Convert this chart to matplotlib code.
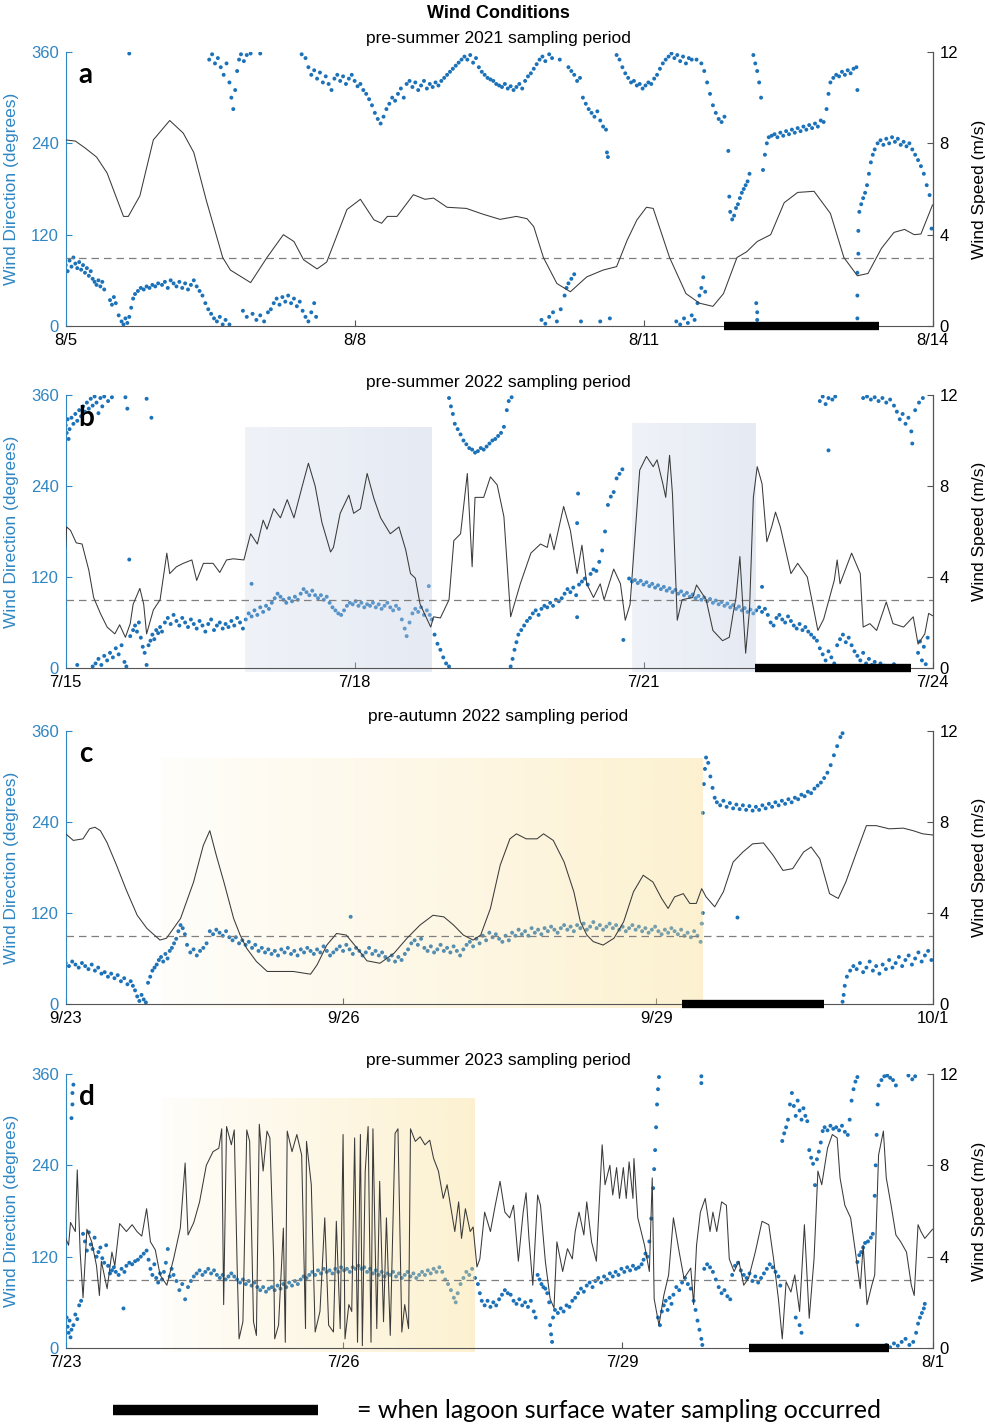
import numpy as np
import matplotlib
matplotlib.use('Agg')
import matplotlib.pyplot as plt
from matplotlib.lines import Line2D

plt.rcParams['font.family'] = ['Liberation Sans', 'DejaVu Sans']

# ---------------- data (x in days from panel start) ----------------
a_spd = [(0.00, 8.15), (0.10, 8.1), (0.20, 7.8), (0.32, 7.4), (0.43, 6.7), (0.60, 4.8), (0.65, 4.8),
         (0.77, 5.7), (0.91, 8.15), (1.08, 9.0), (1.22, 8.45), (1.33, 7.6), (1.46, 5.5), (1.63, 3.0),
         (1.71, 2.45), (1.92, 1.9), (2.09, 3.0), (2.26, 4.0), (2.37, 3.7), (2.47, 2.9), (2.61, 2.5),
         (2.71, 2.8), (2.92, 5.1), (3.06, 5.55), (3.20, 4.65), (3.28, 4.5), (3.34, 4.8), (3.44, 4.8),
         (3.61, 5.75), (3.73, 5.55), (3.82, 5.6), (3.96, 5.2), (4.16, 5.15), (4.33, 4.9), (4.51, 4.67),
         (4.68, 4.8), (4.79, 4.7), (4.86, 4.35), (4.96, 3.0), (5.10, 1.86), (5.24, 1.5), (5.41, 2.15),
         (5.58, 2.45), (5.72, 2.6), (5.83, 3.76), (5.93, 4.64), (6.03, 5.2), (6.10, 5.15), (6.27, 3.0),
         (6.44, 1.42), (6.58, 1.0), (6.72, 0.86), (6.83, 1.42), (6.97, 3.0), (7.07, 3.25), (7.18, 3.7),
         (7.32, 4.0), (7.46, 5.4), (7.60, 5.85), (7.77, 5.9), (7.94, 4.93), (8.08, 3.0), (8.22, 2.2),
         (8.33, 2.3), (8.47, 3.4), (8.60, 4.1), (8.71, 4.23), (8.81, 4.0), (8.88, 4.03), (9.00, 5.3)]

a_dir = [(0.00, 80), (0.02, 72), (0.04, 86), (0.06, 78), (0.08, 90), (0.10, 82), (0.12, 76), (0.14, 84),
         (0.16, 74), (0.18, 80), (0.20, 70), (0.22, 76), (0.24, 66), (0.26, 72), (0.28, 62), (0.30, 58),
         (0.32, 54), (0.34, 60), (0.36, 52), (0.38, 58), (0.40, 48), (0.46, 34), (0.48, 28), (0.50, 38),
         (0.52, 30), (0.55, 14), (0.58, 6), (0.60, 2), (0.62, 10), (0.64, 4), (0.66, 12), (0.68, 24),
         (0.70, 36), (0.72, 42), (0.75, 46), (0.78, 50), (0.81, 48), (0.84, 52), (0.87, 50), (0.90, 54),
         (0.93, 52), (0.96, 56), (1.00, 54), (1.03, 58), (1.06, 50), (1.09, 60), (1.12, 56), (1.15, 52),
         (1.18, 58), (1.21, 50), (1.24, 56), (1.27, 48), (1.30, 54), (1.33, 60), (1.36, 52), (1.39, 46),
         (1.42, 40), (1.45, 30), (1.48, 22), (1.51, 16), (1.54, 10), (1.57, 6), (1.60, 12), (1.63, 2),
         (1.66, 8), (1.70, 2), (0.66, 358),
         (1.49, 350), (1.52, 357), (1.55, 345), (1.58, 352), (1.61, 340), (1.64, 330), (1.67, 345),
         (1.70, 320), (1.72, 300), (1.74, 285), (1.76, 310), (1.78, 335), (1.80, 350), (1.82, 357),
         (1.85, 348), (1.88, 356), (1.92, 358), (2.02, 358),
         (1.84, 20), (1.88, 12), (1.94, 16), (1.98, 8), (2.02, 14), (2.06, 6), (2.10, 18), (2.13, 22),
         (2.16, 30), (2.19, 36), (2.22, 28), (2.25, 38), (2.28, 32), (2.31, 40), (2.34, 30), (2.37, 36),
         (2.40, 26), (2.43, 32), (2.46, 20), (2.49, 12), (2.52, 6), (2.55, 18), (2.58, 30), (2.60, 12),
         (2.45, 357), (2.49, 352), (2.52, 340), (2.55, 330), (2.58, 336), (2.61, 325), (2.64, 333),
         (2.67, 320), (2.70, 328), (2.73, 318), (2.76, 310), (2.79, 325), (2.82, 330), (2.85, 322),
         (2.88, 328), (2.91, 318), (2.94, 325), (2.97, 330), (3.00, 322), (3.03, 315), (3.06, 318),
         (3.09, 310), (3.12, 305), (3.15, 298), (3.18, 290), (3.21, 280), (3.24, 272), (3.27, 266),
         (3.30, 275), (3.33, 285), (3.36, 292), (3.39, 300), (3.42, 296), (3.45, 305), (3.48, 312),
         (3.51, 300), (3.54, 318), (3.57, 322), (3.60, 314), (3.63, 320), (3.66, 310), (3.69, 316),
         (3.72, 322), (3.75, 312), (3.78, 318), (3.81, 314), (3.84, 320), (3.87, 316), (3.90, 322),
         (3.93, 326), (3.96, 330), (3.99, 334), (4.02, 338), (4.05, 342), (4.08, 346), (4.11, 350),
         (4.14, 354), (4.17, 350), (4.20, 356), (4.23, 346), (4.26, 352), (4.29, 340), (4.32, 334),
         (4.35, 330), (4.38, 326), (4.41, 324), (4.44, 322), (4.47, 318), (4.50, 316), (4.53, 314),
         (4.56, 318), (4.59, 312), (4.62, 315), (4.65, 310), (4.68, 314), (4.71, 318), (4.74, 312),
         (4.77, 322), (4.80, 328), (4.83, 332), (4.86, 338), (4.89, 344), (4.92, 350), (4.95, 354),
         (4.98, 348), (5.02, 357), (5.05, 352), (5.13, 350), (5.22, 340), (5.25, 335), (5.28, 330),
         (5.31, 322), (5.34, 326), (5.37, 300), (5.40, 292), (5.43, 285), (5.46, 280), (5.49, 275),
         (5.52, 282), (5.55, 270), (5.58, 262), (5.61, 258), (5.62, 228), (5.63, 222),
         (4.94, 8), (4.98, 3), (5.02, 12), (5.06, 18), (5.10, 6), (5.14, 22), (5.18, 40), (5.20, 50),
         (5.22, 56), (5.25, 62), (5.28, 68), (5.35, 6), (5.55, 6), (5.65, 10),
         (5.72, 356), (5.75, 350), (5.78, 340), (5.81, 332), (5.84, 326), (5.87, 320), (5.90, 322),
         (5.93, 316), (5.96, 318), (5.99, 312), (6.02, 316), (6.05, 320), (6.08, 318), (6.11, 325),
         (6.14, 330), (6.17, 338), (6.20, 345), (6.23, 350), (6.26, 354), (6.29, 358), (6.32, 352),
         (6.35, 356), (6.38, 348), (6.41, 354), (6.44, 345), (6.47, 352), (6.50, 350), (6.55, 350),
         (6.60, 345), (6.63, 335), (6.66, 320), (6.69, 305), (6.72, 290), (6.75, 280), (6.78, 272),
         (6.81, 268), (6.84, 275),
         (6.34, 6), (6.38, 2), (6.42, 10), (6.46, 4), (6.50, 14), (6.53, 8), (6.56, 30), (6.58, 40),
         (6.60, 50), (6.62, 64), (6.64, 45),
         (6.88, 230), (6.89, 170), (6.90, 150), (6.92, 140), (6.94, 145), (6.96, 155), (6.98, 160),
         (7.00, 168), (7.02, 175), (7.04, 180), (7.06, 185), (7.08, 190), (7.10, 200),
         (7.14, 356), (7.16, 345), (7.18, 335), (7.20, 320), (7.22, 300), (7.17, 30), (7.18, 18), (7.18, 8),
         (7.24, 205), (7.26, 225), (7.28, 240), (7.30, 248), (7.33, 250), (7.36, 252), (7.39, 248),
         (7.42, 254), (7.45, 250), (7.48, 256), (7.51, 252), (7.54, 258), (7.57, 254), (7.60, 260),
         (7.63, 256), (7.66, 262), (7.69, 258), (7.72, 264), (7.75, 260), (7.78, 266), (7.81, 262),
         (7.84, 270), (7.87, 268), (7.90, 285), (7.92, 305), (7.94, 320), (7.97, 326), (8.00, 330),
         (8.03, 328), (8.06, 334), (8.09, 330), (8.12, 336), (8.15, 332), (8.18, 338), (8.21, 340),
         (8.22, 310), (8.22, 10), (8.22, 40), (8.22, 70), (8.23, 95), (8.23, 125), (8.24, 150),
         (8.26, 160), (8.28, 168), (8.30, 175), (8.32, 185), (8.34, 200), (8.36, 215), (8.38, 225),
         (8.40, 232), (8.43, 240), (8.46, 244), (8.49, 238), (8.52, 246), (8.55, 240), (8.58, 248),
         (8.61, 242), (8.64, 246), (8.67, 238), (8.70, 242), (8.73, 236), (8.76, 240), (8.79, 232),
         (8.82, 225), (8.85, 218), (8.88, 210), (8.91, 200), (8.94, 185), (8.97, 172), (8.99, 128)]

b_spd = [(0.00, 5.3), (0.01, 6.2), (0.05, 6.05), (0.11, 5.5), (0.17, 5.45), (0.24, 4.3), (0.29, 3.1),
         (0.36, 2.4), (0.43, 1.8), (0.51, 1.5), (0.56, 1.9), (0.62, 1.35), (0.67, 1.95), (0.70, 2.8),
         (0.77, 3.5), (0.81, 2.8), (0.84, 1.5), (0.91, 2.55), (0.98, 3.0), (1.05, 5.05), (1.08, 4.15),
         (1.15, 4.45), (1.22, 4.6), (1.31, 4.75), (1.36, 3.85), (1.43, 4.6), (1.53, 4.6), (1.60, 4.2),
         (1.67, 4.75), (1.74, 4.8), (1.85, 4.75), (1.92, 5.9), (1.99, 5.45), (2.05, 6.5), (2.09, 6.1),
         (2.16, 7.0), (2.23, 6.6), (2.30, 7.4), (2.37, 6.6), (2.45, 7.9), (2.52, 9.0), (2.59, 8.0),
         (2.66, 6.4), (2.75, 5.1), (2.78, 5.3), (2.85, 6.8), (2.94, 7.6), (2.99, 6.8), (3.06, 7.0),
         (3.13, 8.55), (3.20, 7.45), (3.27, 6.6), (3.37, 5.9), (3.46, 6.2), (3.53, 5.2), (3.58, 4.15),
         (3.63, 3.95), (3.68, 2.8), (3.79, 1.8), (3.82, 2.25), (3.89, 2.2), (3.98, 3.0), (4.03, 5.6),
         (4.10, 5.9), (4.17, 8.55), (4.22, 4.45), (4.25, 7.5), (4.34, 7.5), (4.41, 8.4), (4.48, 8.05),
         (4.55, 6.65), (4.62, 2.25), (4.72, 3.7), (4.83, 5.05), (4.93, 5.45), (5.00, 5.3), (5.03, 5.9),
         (5.07, 5.2), (5.17, 7.1), (5.24, 6.05), (5.31, 4.15), (5.36, 5.4), (5.41, 3.7), (5.48, 3.1),
         (5.55, 3.7), (5.59, 3.0), (5.69, 4.35), (5.76, 3.7), (5.81, 2.1), (5.86, 2.8), (5.91, 5.75),
         (5.96, 8.7), (6.03, 9.3), (6.10, 8.85), (6.14, 9.15), (6.20, 8.1), (6.23, 7.5), (6.27, 9.35),
         (6.30, 7.65), (6.35, 2.1), (6.40, 3.0), (6.51, 3.1), (6.55, 3.65), (6.65, 3.0), (6.72, 1.65),
         (6.82, 1.2), (6.89, 1.35), (6.93, 2.4), (6.96, 3.1), (7.00, 4.9), (7.03, 2.8), (7.06, 0.65),
         (7.10, 2.55), (7.14, 7.5), (7.18, 8.85), (7.23, 8.1), (7.28, 5.55), (7.33, 6.2), (7.37, 6.85),
         (7.42, 6.2), (7.53, 4.15), (7.60, 4.6), (7.70, 4.0), (7.81, 1.65), (7.87, 2.15), (7.98, 3.85),
         (8.01, 4.75), (8.04, 3.7), (8.16, 5.05), (8.25, 4.15), (8.28, 1.8), (8.35, 1.95), (8.42, 1.65),
         (8.52, 2.9), (8.59, 1.95), (8.70, 1.8), (8.80, 2.25), (8.85, 1.05), (8.92, 1.5), (8.96, 2.4),
         (9.00, 2.3)]

b_dir = [(0.00, 320), (0.01, 310), (0.02, 328), (0.03, 302), (0.04, 315), (0.06, 330), (0.08, 322),
         (0.10, 335), (0.12, 326), (0.14, 340), (0.16, 332), (0.18, 345), (0.20, 338), (0.22, 350),
         (0.24, 342), (0.26, 355), (0.28, 346), (0.30, 358), (0.32, 350), (0.34, 336), (0.36, 356),
         (0.38, 345), (0.40, 358), (0.44, 352), (0.48, 357), (0.62, 357), (0.64, 342), (0.84, 355),
         (0.89, 330),
         (0.12, 4), (0.28, 2), (0.31, 6), (0.34, 12), (0.37, 4), (0.40, 16), (0.43, 10), (0.46, 20),
         (0.49, 14), (0.52, 26), (0.55, 18), (0.58, 30), (0.61, 8), (0.63, 2), (0.66, 143), (0.67, 42),
         (0.70, 50), (0.72, 56), (0.74, 48), (0.76, 60), (0.78, 40), (0.80, 28), (0.82, 20), (0.84, 4),
         (0.86, 30), (0.88, 36), (0.90, 44), (0.92, 38), (0.94, 50), (0.96, 46), (0.98, 54), (1.00, 48),
         (1.03, 60), (1.06, 66), (1.09, 58), (1.12, 70), (1.15, 62), (1.18, 56), (1.21, 66), (1.24, 60),
         (1.27, 54), (1.30, 64), (1.33, 58), (1.36, 52), (1.39, 62), (1.42, 56), (1.45, 48), (1.48, 58),
         (1.51, 64), (1.54, 50), (1.57, 56), (1.60, 60), (1.63, 52), (1.66, 58), (1.69, 54), (1.72, 62),
         (1.75, 56), (1.78, 66), (1.81, 60), (1.84, 52),
         (1.87, 64), (1.90, 72), (1.93, 111), (1.93, 68), (1.96, 76), (1.99, 70), (2.02, 80), (2.05, 74),
         (2.08, 82), (2.11, 78), (2.14, 86), (2.17, 92), (2.20, 98), (2.23, 94), (2.26, 90), (2.29, 86),
         (2.32, 92), (2.35, 88), (2.38, 94), (2.41, 90), (2.44, 98), (2.47, 104), (2.50, 100), (2.53, 96),
         (2.56, 102), (2.59, 96), (2.62, 92), (2.65, 96), (2.68, 90), (2.71, 94), (2.74, 86), (2.77, 80),
         (2.80, 76), (2.83, 72), (2.86, 70), (2.89, 76), (2.92, 82), (2.95, 86), (2.98, 84), (3.01, 88),
         (3.04, 82), (3.07, 86), (3.10, 80), (3.13, 84), (3.16, 82), (3.19, 86), (3.22, 80), (3.25, 84),
         (3.28, 78), (3.31, 82), (3.34, 86), (3.37, 80), (3.40, 76), (3.43, 82), (3.46, 78), (3.49, 64),
         (3.52, 52), (3.54, 42), (3.57, 60), (3.60, 72), (3.63, 78), (3.66, 74), (3.69, 80), (3.72, 70),
         (3.75, 76), (3.77, 108), (3.78, 70), (3.80, 64), (3.83, 44), (3.86, 32), (3.89, 24), (3.92, 14),
         (3.95, 6), (3.98, 2),
         (3.98, 356), (4.00, 345), (4.02, 335), (4.04, 322), (4.07, 315), (4.10, 308), (4.13, 300),
         (4.16, 295), (4.19, 290), (4.22, 288), (4.25, 284), (4.28, 286), (4.31, 290), (4.34, 288),
         (4.37, 292), (4.40, 296), (4.43, 300), (4.46, 302), (4.49, 306), (4.52, 310), (4.55, 318),
         (4.58, 340), (4.60, 352), (4.63, 357),
         (4.62, 2), (4.64, 12), (4.66, 24), (4.68, 34), (4.70, 44), (4.73, 50), (4.76, 56), (4.79, 62),
         (4.82, 66), (4.85, 72), (4.88, 76), (4.91, 70), (4.94, 78), (4.97, 82), (5.00, 80), (5.03, 86),
         (5.06, 82), (5.09, 90), (5.12, 88), (5.15, 92), (5.18, 98), (5.21, 104), (5.24, 100), (5.27, 106),
         (5.30, 96), (5.31, 67), (5.31, 191), (5.32, 230), (5.33, 110), (5.36, 114), (5.39, 118),
         (5.42, 110), (5.45, 124), (5.48, 130), (5.51, 128), (5.54, 140), (5.57, 155), (5.60, 180),
         (5.63, 215), (5.66, 226), (5.69, 232), (5.72, 250), (5.75, 256), (5.78, 262), (5.79, 37),
         (5.85, 118), (5.88, 114), (5.91, 116), (5.94, 112), (5.97, 115), (6.00, 110), (6.03, 113),
         (6.06, 108), (6.09, 111), (6.12, 106), (6.15, 109), (6.18, 104), (6.21, 107), (6.24, 102),
         (6.27, 105), (6.30, 100), (6.33, 103), (6.36, 98), (6.39, 101), (6.42, 96), (6.45, 99),
         (6.48, 94), (6.51, 97), (6.54, 92), (6.57, 95), (6.60, 90), (6.63, 93), (6.66, 88), (6.69, 91),
         (6.72, 86), (6.75, 89), (6.78, 84), (6.81, 87), (6.84, 82), (6.87, 85), (6.90, 80), (6.93, 83),
         (6.96, 78), (6.99, 81), (7.02, 76), (7.05, 79), (7.08, 74), (7.11, 77), (7.14, 72),
         (7.17, 76), (7.20, 80), (7.23, 107), (7.23, 74), (7.26, 78), (7.29, 70), (7.32, 60), (7.35, 56),
         (7.38, 66), (7.41, 70), (7.44, 64), (7.47, 60), (7.50, 68), (7.53, 62), (7.56, 56), (7.59, 52),
         (7.62, 58), (7.65, 50), (7.68, 54), (7.71, 48), (7.74, 44), (7.77, 40), (7.80, 36), (7.83, 26),
         (7.86, 18), (7.89, 10), (7.92, 22), (7.95, 14), (7.98, 6), (8.01, 30), (8.04, 38), (8.07, 44),
         (8.10, 34), (8.13, 40), (8.16, 30), (8.19, 22), (8.22, 16), (8.25, 10), (8.28, 20), (8.31, 6),
         (8.34, 12), (8.37, 4), (8.40, 8), (8.43, 2), (8.46, 6), (8.50, 3), (8.56, 2), (8.60, 5),
         (8.85, 20), (8.87, 35), (8.89, 10), (8.91, 28), (8.93, 5), (8.95, 40),
         (7.83, 352), (7.86, 358), (7.89, 348), (7.92, 356), (7.92, 287), (7.96, 354), (7.99, 358),
         (8.28, 356), (8.32, 358), (8.36, 354), (8.40, 357), (8.44, 352), (8.48, 356), (8.52, 350),
         (8.56, 354), (8.60, 346), (8.63, 338), (8.66, 328), (8.69, 335), (8.72, 322), (8.75, 330),
         (8.78, 312), (8.79, 296), (8.82, 340), (8.86, 350), (8.90, 356)]

c_spd = [(0.00, 7.48), (0.07, 7.19), (0.16, 7.26), (0.22, 7.7), (0.27, 7.77), (0.32, 7.62), (0.38, 7.11),
         (0.47, 6.09), (0.56, 5.0), (0.66, 3.9), (0.75, 3.32), (0.87, 2.81), (0.93, 2.89), (1.06, 3.76),
         (1.18, 5.36), (1.27, 6.97), (1.33, 7.62), (1.39, 6.53), (1.46, 5.36), (1.55, 3.76), (1.61, 3.03),
         (1.67, 2.45), (1.76, 1.87), (1.86, 1.43), (1.98, 1.43), (2.10, 1.43), (2.26, 1.31), (2.32, 1.72),
         (2.41, 2.59), (2.50, 3.1), (2.59, 3.03), (2.69, 2.45), (2.78, 1.9), (2.90, 1.79), (3.03, 2.23),
         (3.15, 2.89), (3.27, 3.47), (3.39, 3.9), (3.49, 3.83), (3.58, 3.47), (3.67, 3.03), (3.76, 2.81),
         (3.83, 3.03), (3.92, 4.2), (4.01, 6.1), (4.10, 7.26), (4.16, 7.48), (4.25, 7.26), (4.35, 7.26),
         (4.41, 7.48), (4.50, 7.19), (4.60, 6.24), (4.69, 4.93), (4.75, 3.62), (4.81, 3.03), (4.87, 2.74),
         (4.96, 2.59), (5.06, 2.89), (5.15, 3.62), (5.24, 4.93), (5.33, 5.66), (5.42, 5.36), (5.50, 4.64),
         (5.56, 4.2), (5.62, 4.71), (5.70, 4.85), (5.76, 4.42), (5.82, 4.42), (5.87, 5.07), (5.91, 4.71),
         (5.99, 4.27), (6.07, 4.93), (6.16, 6.24), (6.25, 6.68), (6.34, 7.04), (6.44, 7.08), (6.53, 6.53),
         (6.62, 5.87), (6.71, 5.95), (6.81, 6.68), (6.88, 6.9), (6.96, 6.38), (7.05, 4.85), (7.13, 4.64),
         (7.20, 5.36), (7.30, 6.68), (7.39, 7.84), (7.48, 7.84), (7.60, 7.7), (7.73, 7.73), (7.82, 7.62),
         (7.91, 7.48), (8.00, 7.43)]

c_dir = [(0.00, 54), (0.03, 50), (0.06, 56), (0.09, 52), (0.12, 48), (0.15, 54), (0.18, 50), (0.21, 46),
         (0.24, 52), (0.27, 44), (0.30, 48), (0.33, 40), (0.36, 42), (0.39, 36), (0.42, 40), (0.45, 34),
         (0.48, 38), (0.51, 30), (0.54, 34), (0.57, 26), (0.60, 30), (0.62, 24), (0.64, 18), (0.66, 10),
         (0.68, 4), (0.70, 12), (0.72, 6), (0.74, 2), (0.76, 28), (0.78, 36), (0.80, 44), (0.82, 48),
         (0.84, 52), (0.86, 58), (0.88, 62), (0.90, 56), (0.92, 66), (0.94, 60), (0.96, 70), (0.98, 74),
         (1.00, 80), (1.02, 86), (1.04, 96), (1.06, 104), (1.08, 100), (1.10, 92), (1.12, 78), (1.15, 68),
         (1.18, 72), (1.21, 64), (1.24, 70), (1.27, 74), (1.30, 80), (1.33, 96), (1.36, 92), (1.39, 98),
         (1.42, 94), (1.45, 90), (1.48, 96), (1.51, 88), (1.54, 84), (1.57, 88), (1.60, 80), (1.63, 84),
         (1.66, 78), (1.69, 82), (1.72, 74), (1.75, 78), (1.78, 70), (1.81, 74), (1.84, 68), (1.87, 72),
         (1.90, 66), (1.93, 70), (1.96, 64), (1.99, 72), (2.02, 68), (2.05, 74), (2.08, 66), (2.11, 70),
         (2.14, 64), (2.17, 72), (2.20, 68), (2.23, 74), (2.26, 70), (2.29, 66), (2.32, 72), (2.35, 68),
         (2.38, 76), (2.41, 70), (2.44, 64), (2.47, 68), (2.50, 72), (2.53, 76), (2.56, 70), (2.59, 78),
         (2.62, 72), (2.63, 115), (2.65, 66), (2.68, 74), (2.71, 70), (2.74, 64), (2.77, 68), (2.80, 74),
         (2.83, 66), (2.86, 70), (2.89, 64), (2.92, 68), (2.95, 62), (2.98, 58), (3.01, 64), (3.04, 56),
         (3.07, 62), (3.10, 58), (3.13, 66), (3.16, 72), (3.19, 80), (3.22, 84), (3.25, 78), (3.28, 86),
         (3.31, 74), (3.34, 70), (3.37, 76), (3.40, 68), (3.43, 72), (3.46, 78), (3.49, 70), (3.52, 74),
         (3.55, 68), (3.58, 76), (3.61, 70), (3.64, 64), (3.67, 72), (3.70, 78), (3.73, 82), (3.76, 76),
         (3.79, 86), (3.82, 80), (3.85, 90), (3.88, 84), (3.91, 94), (3.94, 88), (3.97, 92), (4.00, 86),
         (4.03, 82), (4.06, 90), (4.09, 84), (4.12, 94), (4.15, 90), (4.18, 98), (4.21, 92), (4.24, 96),
         (4.27, 90), (4.30, 100), (4.33, 94), (4.36, 98), (4.39, 92), (4.42, 100), (4.45, 96), (4.48, 102),
         (4.51, 98), (4.54, 94), (4.57, 100), (4.60, 104), (4.63, 98), (4.66, 102), (4.69, 96), (4.72, 104),
         (4.75, 100), (4.78, 106), (4.81, 98), (4.84, 102), (4.87, 108), (4.90, 100), (4.93, 104),
         (4.96, 98), (4.99, 102), (5.02, 106), (5.05, 100), (5.08, 104), (5.11, 98), (5.14, 102),
         (5.17, 96), (5.20, 100), (5.23, 104), (5.26, 98), (5.29, 102), (5.32, 96), (5.35, 100),
         (5.38, 94), (5.41, 98), (5.44, 102), (5.47, 96), (5.50, 92), (5.53, 98), (5.56, 94), (5.59, 100),
         (5.62, 96), (5.65, 92), (5.68, 98), (5.71, 90), (5.74, 94), (5.77, 88), (5.80, 96), (5.83, 90),
         (5.86, 82), (5.87, 106), (5.88, 120),
         (5.88, 252), (5.89, 290), (5.90, 310), (5.91, 325), (5.93, 318), (5.95, 300), (5.97, 285),
         (5.99, 272), (6.01, 266), (6.04, 262), (6.07, 268), (6.10, 260), (6.13, 265), (6.16, 258),
         (6.19, 263), (6.22, 257), (6.25, 262), (6.28, 256), (6.31, 261), (6.34, 255), (6.37, 260),
         (6.40, 256), (6.43, 262), (6.46, 258), (6.49, 264), (6.52, 260), (6.55, 266), (6.58, 262),
         (6.61, 268), (6.64, 264), (6.67, 270), (6.70, 266), (6.73, 272), (6.76, 270), (6.79, 276),
         (6.82, 274), (6.85, 280), (6.88, 278), (6.91, 284), (6.94, 288), (6.97, 292), (7.00, 298),
         (7.03, 305), (7.06, 315), (7.09, 328), (7.12, 340), (7.15, 352), (7.17, 357), (6.20, 114),
         (7.17, 3), (7.18, 12), (7.19, 24), (7.21, 36), (7.24, 44), (7.27, 50), (7.30, 46), (7.33, 54),
         (7.36, 42), (7.39, 48), (7.42, 56), (7.45, 44), (7.48, 50), (7.51, 40), (7.54, 52), (7.57, 46),
         (7.60, 58), (7.63, 48), (7.66, 54), (7.69, 62), (7.72, 50), (7.75, 58), (7.78, 64), (7.81, 52),
         (7.84, 60), (7.87, 68), (7.90, 56), (7.93, 64), (7.96, 70), (7.99, 58)]

d_spd = [(0.00, 4.8), (0.03, 4.5), (0.05, 5.5), (0.10, 5.1), (0.12, 7.8), (0.15, 4.2), (0.18, 2.2),
         (0.22, 5.2), (0.27, 4.65), (0.32, 3.6), (0.35, 2.3), (0.37, 3.8), (0.43, 2.6), (0.48, 4.2),
         (0.51, 3.6), (0.56, 5.45), (0.63, 5.1), (0.69, 5.4), (0.74, 5.1), (0.79, 4.9), (0.84, 6.1),
         (0.88, 4.65), (0.93, 4.3), (0.98, 3.2), (1.05, 2.75), (1.12, 3.9), (1.19, 5.25), (1.24, 8.1),
         (1.27, 4.95), (1.33, 5.5), (1.39, 6.4), (1.46, 8.0), (1.53, 8.6), (1.59, 8.75), (1.62, 9.6),
         (1.64, 1.9), (1.67, 9.7), (1.72, 8.9), (1.75, 9.55), (1.78, 3.6), (1.80, 0.4), (1.84, 1.15),
         (1.88, 9.55), (1.91, 9.05), (1.95, 1.15), (1.98, 0.55), (2.01, 9.8), (2.05, 7.75), (2.09, 9.5),
         (2.12, 9.2), (2.16, 3.8), (2.17, 0.4), (2.21, 1.0), (2.26, 5.25), (2.28, 0.25), (2.30, 9.5),
         (2.35, 8.6), (2.40, 9.35), (2.45, 8.45), (2.49, 0.85), (2.50, 9.05), (2.55, 7.15), (2.59, 0.7),
         (2.64, 1.6), (2.69, 5.7), (2.73, 1.0), (2.78, 0.7), (2.81, 5.55), (2.85, 0.85), (2.88, 9.35),
         (2.90, 0.4), (2.94, 1.9), (2.97, 1.6), (3.00, 9.2), (3.03, 0.25), (3.06, 9.35), (3.08, 0.1),
         (3.11, 7.75), (3.14, 9.7), (3.17, 0.25), (3.19, 9.6), (3.23, 0.85), (3.26, 7.3), (3.30, 1.15),
         (3.33, 5.7), (3.37, 0.55), (3.42, 9.4), (3.45, 9.6), (3.49, 0.7), (3.52, 1.9), (3.56, 0.85),
         (3.58, 9.6), (3.63, 9.05), (3.68, 9.25), (3.73, 8.9), (3.78, 9.1), (3.82, 8.3), (3.87, 7.75),
         (3.92, 6.55), (3.96, 7.15), (4.01, 5.85), (4.04, 5.1), (4.08, 6.4), (4.11, 4.8), (4.15, 6.1),
         (4.20, 5.1), (4.23, 5.3), (4.27, 3.55), (4.30, 3.9), (4.35, 5.95), (4.41, 5.1), (4.46, 6.25),
         (4.51, 7.3), (4.56, 5.95), (4.61, 5.7), (4.65, 6.25), (4.70, 3.8), (4.75, 5.95), (4.78, 6.8),
         (4.81, 4.8), (4.85, 2.75), (4.90, 6.7), (4.93, 6.25), (4.98, 3.8), (5.03, 2.15), (5.07, 1.75),
         (5.10, 4.65), (5.16, 3.35), (5.21, 4.35), (5.26, 3.9), (5.29, 5.1), (5.33, 5.95), (5.38, 4.95),
         (5.41, 6.4), (5.46, 4.65), (5.51, 3.8), (5.57, 8.9), (5.60, 7.15), (5.65, 8.0), (5.68, 6.7),
         (5.72, 7.9), (5.75, 6.55), (5.79, 7.9), (5.82, 6.55), (5.85, 8.15), (5.89, 6.55), (5.90, 8.3),
         (5.94, 5.7), (6.01, 4.5), (6.06, 3.35), (6.09, 7.45), (6.11, 2.15), (6.16, 1.0), (6.21, 2.3),
         (6.26, 3.2), (6.31, 5.7), (6.37, 4.2), (6.42, 3.05), (6.49, 3.5), (6.52, 1.9), (6.55, 4.5),
         (6.59, 5.95), (6.64, 6.55), (6.69, 5.1), (6.72, 5.95), (6.76, 5.1), (6.81, 6.4), (6.86, 6.25),
         (6.89, 3.9), (6.94, 3.35), (6.99, 3.8), (7.04, 2.75), (7.09, 3.05), (7.16, 4.2), (7.23, 5.55),
         (7.30, 5.4), (7.35, 3.9), (7.40, 2.15), (7.44, 0.4), (7.48, 2.9), (7.53, 2.45), (7.57, 3.2),
         (7.62, 1.6), (7.67, 5.4), (7.72, 1.3), (7.77, 3.9), (7.81, 7.75), (7.85, 7.15), (7.91, 8.75),
         (7.96, 9.35), (8.01, 9.2), (8.04, 7.45), (8.09, 6.25), (8.15, 5.7), (8.20, 4.2), (8.25, 2.6),
         (8.28, 4.5), (8.32, 1.9), (8.37, 2.75), (8.40, 3.2), (8.44, 8.45), (8.49, 9.5), (8.52, 7.45),
         (8.57, 6.25), (8.62, 4.95), (8.67, 4.65), (8.73, 4.2), (8.78, 2.75), (8.81, 2.3), (8.85, 5.4),
         (8.88, 5.1), (8.92, 4.8), (9.00, 5.2)]

d_dir = [(0.06, 302), (0.07, 320), (0.07, 335), (0.08, 346),
         (0.01, 40), (0.02, 28), (0.03, 20), (0.04, 36), (0.05, 14), (0.06, 24), (0.08, 30), (0.10, 44),
         (0.12, 38), (0.14, 56), (0.16, 62), (0.18, 150), (0.20, 140), (0.22, 128), (0.24, 152),
         (0.26, 136), (0.28, 130), (0.30, 145), (0.32, 120), (0.34, 126), (0.36, 132), (0.38, 118),
         (0.40, 112), (0.42, 135), (0.44, 108), (0.46, 98), (0.48, 102), (0.50, 106), (0.52, 100),
         (0.55, 96), (0.58, 104), (0.60, 52), (0.61, 100), (0.63, 108), (0.66, 112), (0.69, 110),
         (0.72, 114), (0.75, 116), (0.78, 120), (0.81, 124), (0.84, 128), (0.86, 116), (0.88, 104),
         (0.90, 96), (0.92, 110), (0.94, 92), (0.96, 86), (0.98, 98), (1.00, 90), (1.02, 100), (1.04, 112),
         (1.06, 130), (1.08, 94), (1.10, 104), (1.12, 96),
         (1.15, 88), (1.18, 76), (1.21, 84), (1.24, 64), (1.27, 80), (1.30, 88), (1.33, 94), (1.36, 98),
         (1.39, 102), (1.42, 96), (1.45, 100), (1.48, 104), (1.51, 98), (1.54, 102), (1.57, 96), (1.60, 92),
         (1.63, 96), (1.66, 90), (1.69, 94), (1.72, 98), (1.75, 94), (1.78, 90), (1.81, 86), (1.84, 90),
         (1.87, 84), (1.90, 88), (1.93, 82), (1.96, 86), (1.99, 80), (2.02, 76), (2.05, 80), (2.08, 74),
         (2.11, 78), (2.14, 80), (2.17, 76), (2.20, 82), (2.23, 78), (2.26, 84), (2.29, 80), (2.32, 86),
         (2.35, 82), (2.38, 88), (2.41, 84), (2.44, 90), (2.47, 94), (2.50, 92), (2.53, 96), (2.56, 100),
         (2.59, 96), (2.62, 102), (2.65, 98), (2.68, 104), (2.71, 100), (2.74, 102), (2.77, 98), (2.80, 104),
         (2.83, 100), (2.86, 106), (2.89, 102), (2.92, 104), (2.95, 100), (2.98, 106), (3.01, 104),
         (3.04, 108), (3.07, 104), (3.10, 106), (3.13, 100), (3.16, 104), (3.19, 98), (3.22, 102),
         (3.25, 96), (3.28, 100), (3.31, 94), (3.34, 98), (3.37, 96), (3.40, 100), (3.43, 94), (3.46, 98),
         (3.49, 92), (3.52, 96), (3.55, 100), (3.58, 94), (3.61, 98), (3.64, 92), (3.67, 96), (3.70, 100),
         (3.73, 96), (3.76, 102), (3.79, 98), (3.82, 104), (3.85, 100), (3.88, 106), (3.91, 100),
         (3.94, 90), (3.97, 84), (4.00, 76), (4.03, 66), (4.05, 60), (4.07, 72), (4.10, 84), (4.13, 92),
         (4.16, 100), (4.19, 96), (4.22, 104),
         (4.25, 92), (4.28, 84), (4.30, 72), (4.32, 62), (4.35, 56), (4.38, 62), (4.41, 54), (4.44, 60),
         (4.47, 56), (4.50, 64), (4.53, 70), (4.56, 76), (4.59, 72), (4.62, 70), (4.65, 62), (4.68, 58),
         (4.71, 64), (4.74, 56), (4.77, 60), (4.80, 54), (4.83, 62), (4.86, 48), (4.88, 40), (4.90, 96),
         (4.92, 90), (4.94, 84), (4.96, 80), (4.98, 78), (5.00, 72), (5.02, 60), (5.03, 30), (5.04, 18),
         (5.05, 8), (5.06, 40), (5.08, 50), (5.11, 46), (5.14, 52), (5.17, 48), (5.20, 56), (5.23, 54),
         (5.26, 62), (5.29, 66), (5.32, 72), (5.35, 78), (5.38, 74), (5.41, 82), (5.44, 86), (5.47, 80),
         (5.50, 88), (5.53, 92), (5.56, 86), (5.59, 94), (5.62, 90), (5.65, 98), (5.68, 94), (5.71, 100),
         (5.74, 96), (5.77, 104), (5.80, 100), (5.83, 106), (5.86, 102), (5.89, 108), (5.92, 104),
         (5.95, 106), (5.98, 110), (6.00, 116), (6.02, 124), (6.04, 120), (6.06, 140), (6.08, 170),
         (6.10, 210), (6.11, 235), (6.12, 260), (6.13, 290), (6.14, 320), (6.15, 340), (6.16, 356),
         (6.15, 40), (6.17, 30), (6.19, 48), (6.21, 56), (6.23, 62), (6.25, 50), (6.27, 66), (6.29, 58),
         (6.31, 70), (6.34, 80), (6.37, 76), (6.40, 86), (6.43, 92), (6.46, 84), (6.49, 78), (6.52, 62),
         (6.54, 50), (6.56, 36), (6.58, 24), (6.60, 12), (6.61, 4), (6.60, 357), (6.60, 348), (6.63, 104),
         (6.66, 110), (6.69, 106), (6.72, 100), (6.75, 90), (6.78, 80), (6.81, 72), (6.84, 76), (6.87, 68),
         (6.90, 64), (6.92, 96), (6.95, 108), (6.98, 112), (7.01, 102), (7.04, 96), (7.07, 92), (7.10, 98),
         (7.13, 88), (7.16, 94), (7.19, 86), (7.22, 92), (7.25, 98), (7.28, 104), (7.31, 110), (7.34, 106),
         (7.37, 100), (7.40, 94), (7.42, 82),
         (7.44, 272), (7.46, 282), (7.48, 290), (7.50, 300), (7.52, 320), (7.54, 335), (7.56, 318),
         (7.58, 305), (7.60, 325), (7.62, 312), (7.64, 300), (7.66, 315), (7.68, 305), (7.70, 298),
         (7.72, 260), (7.74, 250), (7.76, 242), (7.78, 214), (7.80, 248), (7.82, 258), (7.84, 270),
         (7.86, 285), (7.88, 290), (7.91, 286), (7.94, 292), (7.97, 288), (8.00, 290), (8.03, 286),
         (8.06, 292), (8.09, 284), (8.12, 280), (8.14, 300), (8.16, 325), (8.18, 340), (8.20, 350),
         (8.22, 356),
         (7.58, 40), (7.62, 30), (7.64, 20), (8.22, 113), (8.24, 122), (8.26, 126), (8.28, 132),
         (8.30, 138), (8.33, 140), (8.36, 145), (8.38, 150), (8.22, 30),
         (8.40, 200), (8.41, 240), (8.42, 280), (8.43, 320), (8.44, 345), (8.47, 352), (8.50, 357),
         (8.53, 358), (8.56, 355), (8.59, 352), (8.62, 345), (8.75, 358), (8.79, 353), (8.82, 357),
         (8.48, 2), (8.52, 4), (8.56, 1), (8.60, 6), (8.64, 3), (8.68, 8), (8.72, 12), (8.76, 4),
         (8.80, 8), (8.83, 20), (8.85, 32), (8.87, 40), (8.89, 46), (8.91, 52), (8.92, 58)]

# panel settings
subtitles = ['pre-summer 2021 sampling period', 'pre-summer 2022 sampling period',
             'pre-autumn 2022 sampling period', 'pre-summer 2023 sampling period']
letters = ['a', 'b', 'c', 'd']
spans = [9, 9, 8, 9]
tick_pos = [[0, 3, 6, 9], [0, 3, 6, 9], [0, 2.56, 5.45, 8], [0, 2.88, 5.78, 9]]
tick_lab = [['8/5', '8/8', '8/11', '8/14'], ['7/15', '7/18', '7/21', '7/24'],
            ['9/23', '9/26', '9/29', '10/1'], ['7/23', '7/26', '7/29', '8/1']]
sampling = [(6.83, 8.44), (7.16, 8.78), (5.69, 7.0), (7.09, 8.55)]
shades = [[], [(1.86, 3.80, 318, 'blue'), (5.88, 7.16, 323, 'blue')],
          [(0.88, 5.88, 324, 'yellow')], [(0.99, 4.24, 328, 'yellow')]]
speeds = [a_spd, b_spd, c_spd, d_spd]
dirs = [a_dir, b_dir, c_dir, d_dir]

BLUE = '#2f86c3'
DOT = '#1c72b8'
W, H = 985, 1424

fig = plt.figure(figsize=(W / 100, H / 100), dpi=100)
tops = [52, 395, 731, 1074]
bots = [326, 668, 1004, 1348]
sub_y = [39, 382, 717, 1060]

fig.text(498 / W, 1 - 14 / H, 'Wind Conditions', ha='center', va='center',
         fontsize=13, fontweight='bold')

for i in range(4):
    l, r = 65.7, 932.5
    ax = fig.add_axes([l / W, 1 - bots[i] / H, (r - l) / W, (bots[i] - tops[i]) / H])
    ax2 = ax.twinx()

    dt, dv = np.array(dirs[i]).T
    ax.scatter(dt, dv, s=8, color=DOT, edgecolors='none', zorder=1)

    for x0, x1, top, kind in shades[i]:
        grad = np.zeros((1, 256, 4))
        if kind == 'blue':
            grad[..., :3] = (0.78, 0.82, 0.90)
            grad[..., 3] = np.linspace(0.28, 0.45, 256)
        else:
            grad[..., :3] = (0.98, 0.88, 0.60)
            grad[..., 3] = np.linspace(0.05, 0.46, 256)
        ax.imshow(grad, extent=[x0, x1, -5, top], aspect='auto', zorder=2,
                  interpolation='bilinear', clip_on=False)

    ax.axhline(90, color='#7f7f7f', lw=0.9, ls=(0, (6, 4)), zorder=3)

    st, sv = np.array(speeds[i]).T
    ax2.plot(st, sv, color='#3a3a3a', lw=0.75, zorder=3)
    s0, s1 = sampling[i]
    ax2.plot([s0, s1], [0, 0], color='black', lw=6, solid_capstyle='butt',
             clip_on=False, zorder=6)

    ax.set_xlim(0, spans[i])
    ax.set_ylim(0, 360)
    ax2.set_ylim(0, 12)
    ax.set_yticks([0, 120, 240, 360])
    ax2.set_yticks([0, 4, 8, 12])
    ax.set_xticks(tick_pos[i])
    ax.set_xticklabels(tick_lab[i])

    ax.tick_params(axis='y', direction='in', length=4, colors=BLUE, labelsize=12, pad=5)
    ax.tick_params(axis='x', direction='in', length=4, color='#555555', labelsize=12, pad=5)
    ax2.tick_params(axis='y', direction='in', length=4, color='#555555', labelsize=12, pad=5)
    for a in (ax, ax2):
        a.spines['top'].set_visible(False)
    ax.spines['left'].set_color(BLUE)
    ax.spines['bottom'].set_color('#555555')
    ax2.spines['right'].set_color('#555555')
    ax2.spines['left'].set_visible(False)
    ax2.spines['bottom'].set_visible(False)

    ax.set_ylabel('Wind Direction (degrees)', color=BLUE, fontsize=12.5)
    ax.yaxis.set_label_coords(-0.054, 0.5)
    ax2.set_ylabel('Wind Speed (m/s)', fontsize=12.5, rotation=90)
    ax2.yaxis.set_label_coords(1.045, 0.5)

    ax.text(0.015, 0.915, letters[i], transform=ax.transAxes, fontsize=20,
            fontweight='bold', family=['Lato', 'DejaVu Sans'], ha='left', va='center', zorder=7)

    fig.text(498 / W, 1 - sub_y[i] / H, subtitles[i], ha='center', va='center', fontsize=12.5)

# bottom legend
fig.add_artist(Line2D([113 / W, 318 / W], [1 - 1410 / H] * 2, lw=7.5, color='black',
                      solid_capstyle='butt'))
fig.text(357 / W, 1 - 1410 / H, '= when lagoon surface water sampling occurred', ha='left',
         va='center', fontsize=18, family=['Lato', 'DejaVu Sans'])

fig.savefig('out.png', dpi=100)
